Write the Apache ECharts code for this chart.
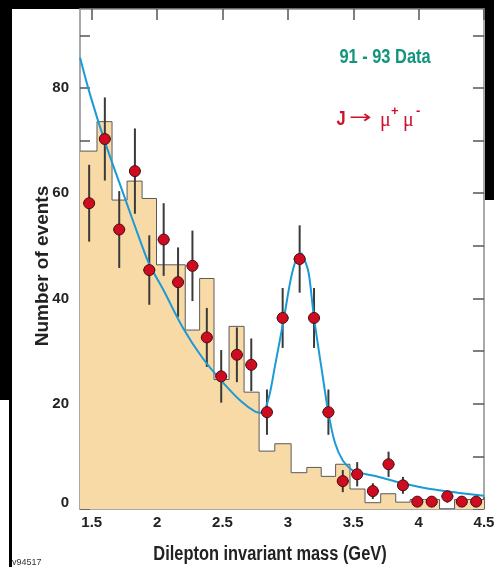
<!DOCTYPE html>
<html>
<head>
<meta charset="utf-8">
<title>Dilepton invariant mass</title>
<script src="https://cdn.jsdelivr.net/npm/echarts@6/dist/echarts.min.js"></script>
<style>
  html, body { margin: 0; padding: 0; background: #fff; }
  #chart { width: 494px; height: 567px; }
</style>
</head>
<body>
<div id="chart"></div>
<script>
// bin centres in GeV, shared by histogram and data points
var massCenters = [1.48, 1.60, 1.71, 1.83, 1.94, 2.05, 2.16, 2.27, 2.38, 2.49, 2.61, 2.72, 2.84, 2.96,
                   3.09, 3.20, 3.31, 3.42, 3.53, 3.65, 3.77, 3.88, 3.99, 4.10, 4.22, 4.33, 4.44];
// filled histogram (events per bin)
var histCounts = [68, 73.6, 58.7, 62.3, 59, 46.4, 46.4, 34, 43.8, 24.6, 34.7, 22.2, 11, 12.4,
                  6.9, 7.9, 6.2, 8.5, 3.8, 1.2, 2.9, 1.3, 1.8, 1.8, 0, 1.8, 1.8];
// data points and their errors
var dataValues = [58.1, 70.3, 53.1, 64.2, 45.4, 51.2, 43.1, 46.2, 32.6, 25.2, 29.3, 27.4, 18.4, 36.3,
                  47.5, 36.3, 18.4, 5.3, 6.6, 3.4, 8.5, 4.5, 1.4, 1.4, 2.4, 1.4, 1.4];
var dataErrors = [7.3, 7.9, 7.3, 8.1, 6.6, 6.9, 6.6, 6.7, 5.6, 5.0, 5.2, 5.0, 4.3, 5.7,
                  6.4, 5.7, 4.3, 2.1, 2.3, 1.5, 2.4, 1.6, 1.0, 1.0, 1.2, 1.0, 1.0];
// fit curve
var fitMass   = [1.41, 1.49, 1.60, 1.75, 1.87, 1.94, 2.05, 2.20, 2.35, 2.49, 2.64, 2.75, 2.80, 2.85, 2.90,
                 2.97, 3.02, 3.06, 3.10, 3.13, 3.16, 3.20, 3.26, 3.31, 3.36, 3.42, 3.48, 3.53, 3.66, 3.77,
                 3.89, 4.09, 4.30, 4.50];
var fitValues = [85.8, 78.5, 69.8, 59.3, 51.0, 46.5, 41.5, 34.3, 28.6, 24.4, 20.5, 18.5, 18.3, 20.8, 27.0,
                 36.3, 43.4, 47.2, 48.6, 47.2, 44.7, 36.3, 26.3, 18.3, 12.6, 9.2, 7.6, 7.0, 6.3, 5.6,
                 4.8, 3.8, 3.1, 2.5];
var xTicks = [1.5, 2, 2.5, 3, 3.5, 4, 4.5];
var yTicks = [0, 10, 20, 30, 40, 50, 60, 70, 80, 90];
var yLabels = [0, 20, 40, 60, 80];

var X_MIN = 1.41, X_MAX = 4.5, Y_MAX = 95;
var SANS = "'Liberation Sans', Arial, sans-serif";
var AXIS_GREY = '#8c8c8c';
var RED = '#d0102a';

// step outline: left edge of every bin, then the right end
var histData = [];
for (var i = 0; i < massCenters.length; i++) {
  var lo = i === 0 ? X_MIN : (massCenters[i - 1] + massCenters[i]) / 2;
  histData.push([lo, histCounts[i]]);
}
histData.push([X_MAX, histCounts[histCounts.length - 1]]);

var pointData = [], errData = [], fitData = [];
for (var j = 0; j < massCenters.length; j++) {
  pointData.push([massCenters[j], dataValues[j]]);
  errData.push([massCenters[j], dataValues[j], dataErrors[j]]);
}
for (var k = 0; k < fitMass.length; k++) fitData.push([fitMass[k], fitValues[k]]);

function renderErr(params, api) {
  var x = api.value(0), v = api.value(1), e = api.value(2);
  var top = api.coord([x, v + e]), bot = api.coord([x, Math.max(v - e, 0)]);
  var l = api.coord([x - 0.045, v]), r = api.coord([x + 0.045, v]);
  var st = { stroke: '#3a3a3a', lineWidth: 2 };
  return {
    type: 'group',
    children: [
      { type: 'line', shape: { x1: top[0], y1: top[1], x2: bot[0], y2: bot[1] }, style: st },
      { type: 'line', shape: { x1: l[0], y1: l[1], x2: r[0], y2: r[1] }, style: st }
    ]
  };
}

function axisBase(extra) {
  var a = {
    type: 'value',
    axisLine: { show: true, onZero: false, lineStyle: { color: AXIS_GREY, width: 1.5 } },
    axisTick: { show: true, inside: true, length: 11, lineStyle: { color: AXIS_GREY, width: 1.5 } },
    splitLine: { show: false },
    axisLabel: { show: false }
  };
  for (var key in extra) a[key] = extra[key];
  return a;
}

// condensed-looking text: regular font squeezed horizontally
function squeezed(text, x, y, size, fill, extra) {
  var el = {
    type: 'text', x: x, y: y, scaleX: 0.82,
    style: { text: text, align: 'center', verticalAlign: 'middle', fill: fill, font: 'bold ' + size + 'px ' + SANS }
  };
  for (var key in extra) el[key] = extra[key];
  return el;
}

var chart = echarts.init(document.getElementById('chart'), null, { renderer: 'canvas' });
chart.setOption({
  animation: false,
  backgroundColor: '#fff',
  grid: { left: 80, right: 10, top: 9, bottom: 58, containLabel: false, outerBoundsMode: 'none' },
  xAxis: [
    axisBase({
      min: X_MIN, max: X_MAX, position: 'bottom',
      axisTick: { show: true, inside: true, length: 12, customValues: xTicks, lineStyle: { color: '#555', width: 1.5 } },
      axisLabel: { show: true, customValues: xTicks, margin: 6, color: '#222', fontFamily: SANS,
                   fontWeight: 'bold', fontSize: 15 }
    }),
    axisBase({
      min: X_MIN, max: X_MAX, position: 'top',
      axisTick: { show: true, inside: true, length: 11, customValues: xTicks, lineStyle: { color: '#555', width: 1.5 } }
    })
  ],
  yAxis: [
    axisBase({
      min: 0, max: Y_MAX, position: 'left',
      axisTick: { show: true, inside: true, length: 10, customValues: yTicks, lineStyle: { color: '#555', width: 1.5 } },
      axisLabel: {
        show: true, customValues: yLabels, margin: 11, color: '#222', fontFamily: SANS,
        fontWeight: 'bold', fontSize: 15,
        formatter: function (v) { return v === 0 ? '{z|0}' : String(v); },
        rich: { z: { padding: [0, 0, 12, 0], color: '#222', fontFamily: SANS, fontWeight: 'bold', fontSize: 15 } }
      }
    }),
    axisBase({
      min: 0, max: Y_MAX, position: 'right',
      axisTick: { show: true, inside: true, length: 11, customValues: yTicks, lineStyle: { color: '#555', width: 1.5 } }
    })
  ],
  series: [
    {
      type: 'line', step: 'end', data: histData, symbol: 'none', z: 1,
      lineStyle: { color: '#5a5a5a', width: 1 },
      areaStyle: { color: '#f8daa6', opacity: 1 }
    },
    {
      type: 'custom', data: errData, renderItem: renderErr, z: 3,
      encode: { x: 0, y: 1 }
    },
    {
      type: 'line', data: fitData, symbol: 'none', smooth: 0.35, z: 4,
      lineStyle: { color: '#1b9ad6', width: 2 }
    },
    {
      type: 'scatter', data: pointData, symbol: 'circle', symbolSize: 11, z: 5,
      itemStyle: { color: '#cf0b22', borderColor: '#4a1010', borderWidth: 1, opacity: 1 }
    }
  ],
  graphic: [
    { type: 'rect', shape: { x: 0, y: 0, width: 494, height: 9 }, style: { fill: '#000' } },
    { type: 'rect', shape: { x: 0, y: 0, width: 12, height: 400 }, style: { fill: '#000' } },
    { type: 'rect', shape: { x: 9, y: 400, width: 3, height: 167 }, style: { fill: '#000' } },
    { type: 'rect', shape: { x: 485, y: 0, width: 9, height: 200 }, style: { fill: '#000' } },
    {
      type: 'text', x: 43, y: 266, rotation: Math.PI / 2,
      style: { text: 'Number of events', align: 'center', verticalAlign: 'middle', fill: '#222',
               font: 'bold 19px ' + SANS }
    },
    squeezed('Dilepton invariant mass (GeV)', 270, 554, 20, '#222'),
    squeezed('91 - 93 Data', 385, 57, 20, '#12957d'),
    squeezed('J', 341, 119, 20, RED),
    { type: 'text', x: 349, y: 118, scaleX: 1.5, style: { text: '\u2192', verticalAlign: 'middle', fill: RED, font: "18px 'DejaVu Sans', sans-serif" } },
    { type: 'text', x: 380, y: 121, style: { text: '\u03bc', verticalAlign: 'middle', fill: RED, font: "20px 'Liberation Serif', serif" } },
    { type: 'text', x: 391, y: 111, style: { text: '+', verticalAlign: 'middle', fill: RED, font: 'bold 13px ' + SANS } },
    { type: 'text', x: 403, y: 121, style: { text: '\u03bc', verticalAlign: 'middle', fill: RED, font: "20px 'Liberation Serif', serif" } },
    { type: 'text', x: 416, y: 111, style: { text: '-', verticalAlign: 'middle', fill: RED, font: 'bold 13px ' + SANS } },
    { type: 'text', x: 12, y: 563, style: { text: 'v94517', verticalAlign: 'middle', fill: '#333', font: '9px ' + SANS } }
  ]
});
</script>
</body>
</html>
